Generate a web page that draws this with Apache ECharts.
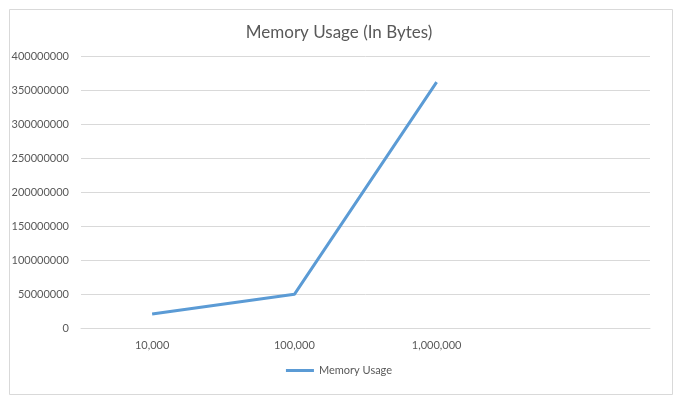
<!DOCTYPE html>
<html>
<head>
<meta charset="utf-8">
<script src="https://cdn.jsdelivr.net/npm/echarts@6/dist/echarts.min.js"></script>
<style>html,body{margin:0;padding:0;background:#fff}#c{width:678px;height:401px}</style>
</head>
<body>
<div id="c"></div>
<script>
const categories = ['10,000', '100,000', '1,000,000', ''];
const memoryUsage = [20500000, 49500000, 361500000, null];
const yTicks = { min: 0, max: 400000000, interval: 50000000 };

const chart = echarts.init(document.getElementById('c'));
chart.setOption({
  animation: false,
  backgroundColor: '#fff',
  graphic: [{
    type: 'rect', left: 7, top: 7,
    shape: { width: 663, height: 385 },
    style: { fill: 'none', stroke: '#d9d9d9', lineWidth: 1 }
  }],
  title: {
    text: 'Memory Usage (In Bytes)',
    left: 'center', top: 19,
    textStyle: { fontFamily: 'Lato', fontWeight: 'normal', fontSize: 17, color: '#595959' }
  },
  legend: {
    bottom: 20, left: 'center',
    icon: 'rect', itemWidth: 28, itemHeight: 3, itemGap: 4,
    textStyle: { fontFamily: 'Lato', fontSize: 11, color: '#595959' },
    data: ['Memory Usage']
  },
  grid: { left: 81, right: 28, top: 56, bottom: 73 },
  xAxis: {
    type: 'category', data: categories, boundaryGap: true,
    axisLine: { show: true, lineStyle: { color: '#d9d9d9' } },
    axisTick: { show: false },
    axisLabel: { fontFamily: 'Lato', fontSize: 11, color: '#595959', margin: 12 }
  },
  yAxis: {
    type: 'value', min: yTicks.min, max: yTicks.max, interval: yTicks.interval,
    axisLine: { show: false }, axisTick: { show: false },
    splitLine: { lineStyle: { color: '#d9d9d9' } },
    axisLabel: { fontFamily: 'Lato', fontSize: 11, color: '#595959', margin: 12,
      formatter: v => String(v) }
  },
  series: [{
    name: 'Memory Usage', type: 'line', data: memoryUsage,
    showSymbol: false, symbol: 'none',
    lineStyle: { color: '#5B9BD5', width: 3 },
    itemStyle: { color: '#5B9BD5' }
  }]
});
</script>
</body>
</html>
